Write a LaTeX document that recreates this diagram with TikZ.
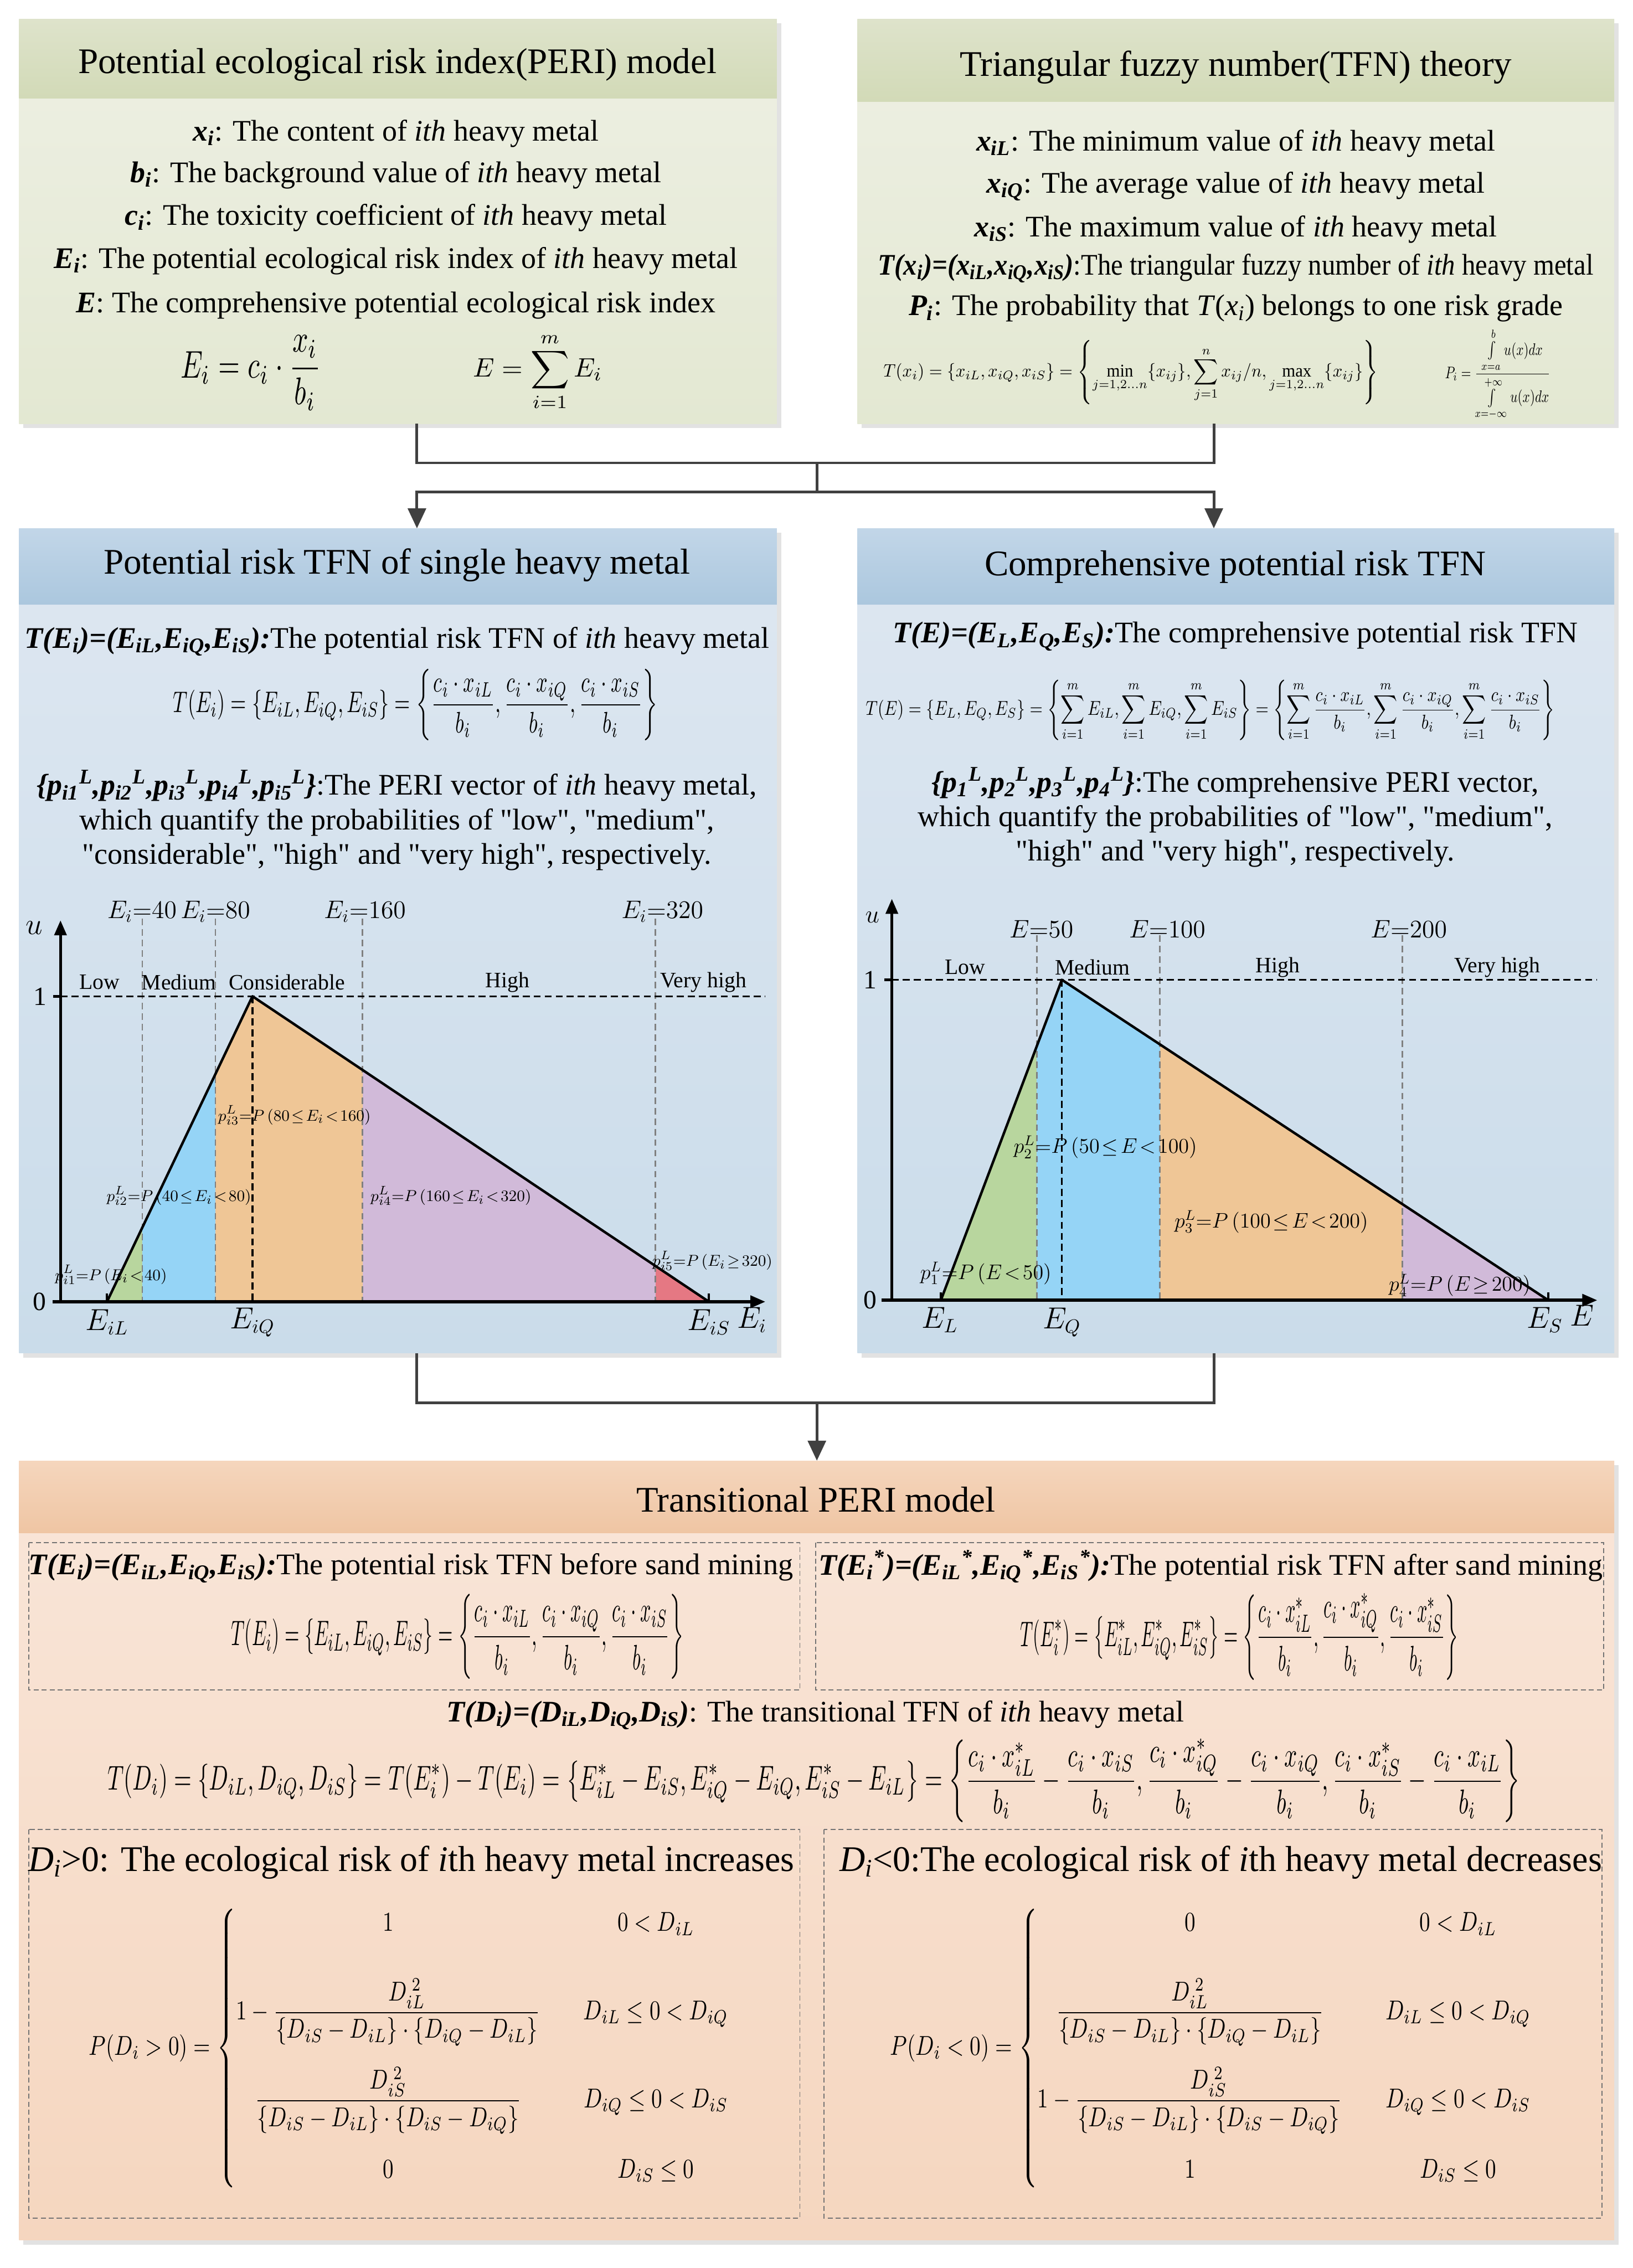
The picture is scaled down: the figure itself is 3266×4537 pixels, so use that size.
\documentclass[tikz,border=0pt]{standalone}
\usepackage{fontspec}
\setmainfont{Liberation Serif}
\usepackage{amsmath}
\usetikzlibrary{arrows.meta,shadows}

\definecolor{greenhd1}{HTML}{DEE3CB}
\definecolor{greenhd2}{HTML}{D2DAB7}
\definecolor{greenbd1}{HTML}{EEF0E4}
\definecolor{greenbd2}{HTML}{E3E8D2}
\definecolor{bluehd1}{HTML}{C2D6E8}
\definecolor{bluehd2}{HTML}{ABC7DE}
\definecolor{bluebd1}{HTML}{DEE7F1}
\definecolor{bluebd2}{HTML}{CADCEA}
\definecolor{orghd1}{HTML}{F5D6BD}
\definecolor{orghd2}{HTML}{EFC5A3}
\definecolor{orgbd1}{HTML}{F9E6D9}
\definecolor{orgbd2}{HTML}{F5D6BF}
\definecolor{lowc}{HTML}{B8D69E}
\definecolor{medc}{HTML}{95D4F6}
\definecolor{conc}{HTML}{EFC696}
\definecolor{higc}{HTML}{D1BAD9}
\definecolor{vhic}{HTML}{E57883}
\definecolor{shadowc}{HTML}{E2E2E2}
\definecolor{linec}{HTML}{404040}

\newcommand{\bvar}[2]{\textbf{\textit{#1\textsubscript{#2}}}}
\newcommand{\qt}[1]{\textquotedbl#1\textquotedbl}
\newcommand{\fitmath}[3]{\resizebox*{#1}{#2}{$\displaystyle #3$}}
\newcommand{\cxb}[1]{\dfrac{c_i\cdot x_{#1}}{b_i}}
\newcommand{\cxbs}[1]{\dfrac{c_i\cdot x_{#1}^{*}}{b_i}}
\newcommand{\plmath}[1]{$\thickmuskip=2mu\relax\medmuskip=1mu\relax #1$}

\begin{document}
\begin{tikzpicture}[x=0.01cm,y=-0.01cm,
  panel/.style={anchor=north west,inner sep=0pt,outer sep=0pt,
    drop shadow={shadow xshift=0.09cm,shadow yshift=-0.09cm,fill=shadowc,opacity=1}},
  head/.style={anchor=north west,inner sep=0pt,outer sep=0pt},
  ttl/.style={font=\fontsize{20.5}{24}\selectfont,inner sep=0pt},
  txt/.style={font=\fontsize{17}{19.6}\selectfont,align=center,inner sep=0pt},
  bigtxt/.style={font=\fontsize{20.5}{24}\selectfont,inner sep=0pt},
  frm/.style={inner sep=0pt},
  conn/.style={draw=linec,line width=0.055cm},
  arr/.style={conn,-{Triangle[length=0.4cm,width=0.36cm]}},
  axline/.style={line width=0.06cm,-{Triangle[length=0.3cm,width=0.24cm]}},
  triln/.style={line width=0.05cm,line join=round},
  guide/.style={black!50,line width=0.025cm,dash pattern=on 0.13cm off 0.08cm},
  peakln/.style={line width=0.035cm,dash pattern=on 0.14cm off 0.08cm},
  dbox/.style={black!55,line width=0.02cm,dash pattern=on 0.1cm off 0.06cm},
  catlab/.style={font=\fontsize{12.5}{15}\selectfont,inner sep=0pt},
  evlab/.style={font=\fontsize{14}{16}\selectfont,inner sep=0pt},
  plab/.style={font=\fontsize{9.5}{12}\selectfont,inner sep=0pt},
  dplab/.style={font=\fontsize{11.5}{14}\selectfont,inner sep=0pt},
  axlab/.style={font=\fontsize{16}{19}\selectfont,inner sep=0pt},
  numlab/.style={font=\fontsize{15}{18}\selectfont,inner sep=0pt}]

\useasboundingbox (0,0) rectangle (3266,4537);

% panels
\node[panel,minimum width=15.15cm,minimum height=8.09cm,top color=greenbd1,bottom color=greenbd2] (peri) at (38,38) {};
\node[head,minimum width=15.15cm,minimum height=1.59cm,top color=greenhd1,bottom color=greenhd2] (perihd) at (peri.north west) {};
\node[panel,minimum width=15.13cm,minimum height=8.09cm,top color=greenbd1,bottom color=greenbd2] (tfn) at (1715,38) {};
\node[head,minimum width=15.13cm,minimum height=1.65cm,top color=greenhd1,bottom color=greenhd2] (tfnhd) at (tfn.north west) {};
\node[panel,minimum width=15.15cm,minimum height=16.49cm,top color=bluebd1,bottom color=bluebd2] (single) at (38,1057) {};
\node[head,minimum width=15.15cm,minimum height=1.52cm,top color=bluehd1,bottom color=bluehd2] (singlehd) at (single.north west) {};
\node[panel,minimum width=15.13cm,minimum height=16.49cm,top color=bluebd1,bottom color=bluebd2] (comp) at (1715,1057) {};
\node[head,minimum width=15.13cm,minimum height=1.52cm,top color=bluehd1,bottom color=bluehd2] (comphd) at (comp.north west) {};
\node[panel,minimum width=31.89cm,minimum height=15.58cm,top color=orgbd1,bottom color=orgbd2] (trans) at (38,2922) {};
\node[head,minimum width=31.89cm,minimum height=1.45cm,top color=orghd1,bottom color=orghd2] (transhd) at (trans.north west) {};

% connectors
\coordinate (colL) at (834,0);
\coordinate (colR) at (2428,0);
\coordinate (colM) at (1634,0);
\coordinate (jtop) at (1634,926);
\coordinate (jmid) at (1634,984);
\coordinate (jlow) at (1634,2806);
\draw[conn] (peri.south -| colL) |- (jtop) -| (tfn.south -| colR);
\draw[conn] (jtop) -- (jmid);
\draw[arr] (jmid) -| (single.north -| colL);
\draw[arr] (jmid) -| (comp.north -| colR);
\draw[conn] (single.south -| colL) |- (jlow) -| (comp.south -| colR);
\draw[arr] (jlow) -- (trans.north -| colM);

% PERI model
\node[ttl] (peritl) at (795,129) {Potential ecological risk index(PERI) model};
\node[txt] (peri1) at (792,267) {\bvar{x}{i}: The content of \textit{ith} heavy metal};
\node[txt] (peri2) at (792,350) {\bvar{b}{i}: The background value of \textit{ith} heavy metal};
\node[txt] (peri3) at (792,436) {\bvar{c}{i}: The toxicity coefficient of \textit{ith} heavy metal};
\node[txt] (peri4) at (792,522) {\bvar{E}{i}: The potential ecological risk index of \textit{ith} heavy metal};
\node[txt] (peri5) at (792,611) {\textbf{\textit{E}}: The comprehensive potential ecological risk index};
\node[frm] (peria) at (502,746) {\fitmath{2.80cm}{1.50cm}{E_i=c_i\cdot\frac{x_i}{b_i}}};
\node[frm] (perib) at (1076,744) {\fitmath{2.58cm}{1.56cm}{E=\sum_{i=1}^{m}E_i}};

% TFN theory
\node[ttl] (tfntl) at (2472,135) {Triangular fuzzy number(TFN) theory};
\node[txt] (tfn1) at (2472,287) {\bvar{x}{iL}: The minimum value of \textit{ith} heavy metal};
\node[txt] (tfn2) at (2472,373) {\bvar{x}{iQ}: The average value of \textit{ith} heavy metal};
\node[txt] (tfn3) at (2472,459) {\bvar{x}{iS}: The maximum value of \textit{ith} heavy metal};
\node[txt] (tfn4) at (2472,537) {\resizebox{14.3cm}{\height}{\textbf{\textit{T(x\textsubscript{i})=(x\textsubscript{iL},x\textsubscript{iQ},x\textsubscript{iS})}}:The triangular fuzzy number of \textit{ith} heavy metal}};
\node[txt] (tfn5) at (2472,617) {\bvar{P}{i}: The probability that \textit{T}(\textit{x}\textsubscript{\textit{i}}) belongs to one risk grade};
\node[frm] (tfna) at (2262,745) {\fitmath{9.89cm}{1.29cm}{T(x_i)=\left\{x_{iL},x_{iQ},x_{iS}\right\}=\left\{\min\limits_{j=1,2\ldots n}\{x_{ij}\},\sum_{j=1}^{n}x_{ij}/n,\max\limits_{j=1,2\ldots n}\{x_{ij}\}\right\}}};
\node[frm] (tfnb) at (2996,749) {\fitmath{2.11cm}{1.84cm}{P_i=\frac{\int\limits_{x=a}^{b}u(x)dx}{\int\limits_{x=-\infty}^{+\infty}u(x)dx}}};

% single heavy metal
\node[ttl] (singletl) at (794,1131) {Potential risk TFN of single heavy metal};
\node[txt] (single1) at (794,1283) {\textbf{\textit{T(E\textsubscript{i})=(E\textsubscript{iL},E\textsubscript{iQ},E\textsubscript{iS}):}}The potential risk TFN of \textit{ith} heavy metal};
\node[frm] (singlea) at (831,1410) {\fitmath{9.68cm}{1.43cm}{T(E_i)=\left\{E_{iL},E_{iQ},E_{iS}\right\}=\left\{\cxb{iL},\cxb{iQ},\cxb{iS}\right\}}};
\node[txt] (single2) at (794,1641) {\textbf{\textit{\{p\textsubscript{i1}\textsuperscript{L},p\textsubscript{i2}\textsuperscript{L},p\textsubscript{i3}\textsuperscript{L},p\textsubscript{i4}\textsuperscript{L},p\textsubscript{i5}\textsuperscript{L}\}}}:The PERI vector of \textit{ith} heavy metal,\\which quantify the probabilities of \qt{low}, \qt{medium},\\\qt{considerable}, \qt{high} and \qt{very high}, respectively.};

% chart of single heavy metal
\coordinate (corg) at (121,2604);
\coordinate (ciL) at (214,2604);
\coordinate (ciQ) at (505,1993);
\coordinate (ciS) at (1418,2604);
\begin{scope}
  \clip (ciL) -- (ciQ) -- (ciS) -- cycle;
  \foreach \a/\b/\c in {214/285/lowc,285/431/medc,431/725/conc,725/1311/higc,1311/1418/vhic}
    \fill[\c] (\a,1980) rectangle (\b,2604);
\end{scope}
\foreach \x in {285,431,725,1311} \draw[guide] (\x,1838) -- (\x,2604);
\draw[peakln] (corg |- ciQ) -- (1531,1993);
\draw[peakln] (ciQ) -- (ciQ |- ciL);
\draw[triln] (ciL) -- (ciQ) -- (ciS);
\draw[axline] (105,2604) -- (1531,2604);
\draw[axline] (corg) -- (121,1841);
\draw[triln] (106,1993) -- (corg |- ciQ);
\draw[triln] (ciL) -- ++(0,-16);
\draw[triln] (ciS) -- ++(0,-16);
\node[axlab] (cu) at (68,1856) {$u$};
\node[numlab] (cone) at (80,1993) {1};
\node[numlab] (czero) at (79,2604) {0};
\node[axlab] (ceil) at (214,2645) {$E_{iL}$};
\node[axlab] (ceiq) at (505,2645) {$E_{iQ}$};
\node[axlab] (ceis) at (1418,2645) {$E_{iS}$};
\node[axlab] (cei) at (1504,2640) {$E_i$};
\node[evlab] (ce40) at (284,1824) {$E_i{=}40$};
\node[evlab] (ce80) at (431,1824) {$E_i{=}80$};
\node[evlab] (ce160) at (730,1824) {$E_i{=}160$};
\node[evlab] (ce320) at (1325,1824) {$E_i{=}320$};
\node[catlab] (clow) at (199,1965) {Low};
\node[catlab] (cmed) at (358,1965) {Medium};
\node[catlab] (ccon) at (574,1965) {Considerable};
\node[catlab] (chig) at (1015,1965) {High};
\node[catlab] (cvhi) at (1407,1965) {Very high};
\node[plab] (cp1) at (222,2550) {\plmath{p_{i1}^{L}{=}P\left(E_i<40\right)}};
\node[plab] (cp2) at (358,2392) {\plmath{p_{i2}^{L}{=}P\left(40\le E_i<80\right)}};
\node[plab] (cp3) at (589,2231) {\plmath{p_{i3}^{L}{=}P\left(80\le E_i<160\right)}};
\node[plab] (cp4) at (902,2392) {\plmath{p_{i4}^{L}{=}P\left(160\le E_i<320\right)}};
\node[plab] (cp5) at (1425,2522) {\plmath{p_{i5}^{L}{=}P\left(E_i\ge320\right)}};

% comprehensive
\node[ttl] (comptl) at (2471,1134) {Comprehensive potential risk TFN};
\node[txt] (comp1) at (2471,1273) {\textbf{\textit{T(E)=(E\textsubscript{L},E\textsubscript{Q},E\textsubscript{S}):}}The comprehensive potential risk TFN};
\node[frm] (compa) at (2421,1421) {\fitmath{13.78cm}{1.22cm}{T(E)=\left\{E_L,E_Q,E_S\right\}=\left\{\sum_{i=1}^{m}E_{iL},\sum_{i=1}^{m}E_{iQ},\sum_{i=1}^{m}E_{iS}\right\}=\left\{\sum_{i=1}^{m}\cxb{iL},\sum_{i=1}^{m}\cxb{iQ},\sum_{i=1}^{m}\cxb{iS}\right\}}};
\node[txt] (comp2) at (2471,1635) {\textbf{\textit{\{p\textsubscript{1}\textsuperscript{L},p\textsubscript{2}\textsuperscript{L},p\textsubscript{3}\textsuperscript{L},p\textsubscript{4}\textsuperscript{L}\}}}:The comprehensive PERI vector,\\which quantify the probabilities of \qt{low}, \qt{medium},\\\qt{high} and \qt{very high}, respectively.};

% chart of comprehensive risk
\coordinate (dorg) at (1784,2601);
\coordinate (dL) at (1882,2601);
\coordinate (dQ) at (2124,1960);
\coordinate (dS) at (3097,2601);
\begin{scope}
  \clip (dL) -- (dQ) -- (dS) -- cycle;
  \foreach \a/\b/\c in {1882/2074/lowc,2074/2320/medc,2320/2805/conc,2805/3097/higc}
    \fill[\c] (\a,1950) rectangle (\b,2601);
\end{scope}
\foreach \x in {2074,2320,2805} \draw[guide] (\x,1871) -- (\x,2601);
\draw[peakln] (dorg |- dQ) -- (3195,1960);
\draw[peakln] (dQ) -- (dQ |- dL);
\draw[triln] (dL) -- (dQ) -- (dS);
\draw[axline] (1763,2601) -- (3195,2601);
\draw[axline] (dorg) -- (1784,1798);
\draw[triln] (1769,1960) -- (dorg |- dQ);
\draw[triln] (dL) -- ++(0,-16);
\draw[triln] (dS) -- ++(0,-16);
\node[numlab] (du) at (1745,1835) {$u$};
\node[numlab] (done) at (1741,1960) {1};
\node[numlab] (dzero) at (1741,2601) {0};
\node[axlab] (del) at (1880,2640) {$E_L$};
\node[axlab] (deq) at (2124,2645) {$E_Q$};
\node[axlab] (des) at (3090,2640) {$E_S$};
\node[axlab] (de) at (3165,2632) {$E$};
\node[evlab] (de50) at (2083,1859) {$E{=}50$};
\node[evlab] (de100) at (2335,1859) {$E{=}100$};
\node[evlab] (de200) at (2818,1859) {$E{=}200$};
\node[catlab] (dlow) at (1930,1935) {Low};
\node[catlab] (dmed) at (2185,1935) {Medium};
\node[catlab] (dhig) at (2556,1935) {High};
\node[catlab] (dvhi) at (2995,1935) {Very high};
\node[dplab] (dp1) at (1972,2547) {\plmath{p_{1}^{L}{=}P\left(E<50\right)}};
\node[dplab] (dp2) at (2211,2295) {\plmath{p_{2}^{L}{=}P\left(50\le E<100\right)}};
\node[dplab] (dp3) at (2543,2444) {\plmath{p_{3}^{L}{=}P\left(100\le E<200\right)}};
\node[dplab] (dp4) at (2920,2571) {\plmath{p_{4}^{L}{=}P\left(E\ge200\right)}};

% transitional PERI model
\node[ttl] (transtl) at (1632,3000) {Transitional PERI model};
\draw[dbox] (58,3086) rectangle (1600,3381);
\draw[dbox] (1632,3086) rectangle (3208,3381);
\draw[dbox] (58,3660) rectangle (1600,4437);
\draw[dbox] (1648,3660) rectangle (3204,4437);
\node[txt] (bef1) at (822,3137) {\resizebox{15.28cm}{\height}{\textbf{\textit{T(E\textsubscript{i})=(E\textsubscript{iL},E\textsubscript{iQ},E\textsubscript{iS}):}}The potential risk TFN before sand mining}};
\node[frm] (befa) at (915,3274) {\fitmath{9.05cm}{1.70cm}{T(E_i)=\left\{E_{iL},E_{iQ},E_{iS}\right\}=\left\{\cxb{iL},\cxb{iQ},\cxb{iS}\right\}}};
\node[txt] (aft1) at (2422,3134) {\resizebox{15.68cm}{\height}{\textbf{\textit{T(E\textsubscript{i}\textsuperscript{*})=(E\textsubscript{iL}\textsuperscript{*},E\textsubscript{iQ}\textsuperscript{*},E\textsubscript{iS}\textsuperscript{*}):}}The potential risk TFN after sand mining}};
\node[frm] (afta) at (2479,3274) {\fitmath{8.76cm}{1.74cm}{T(E_i^{*})=\left\{E_{iL}^{*},E_{iQ}^{*},E_{iS}^{*}\right\}=\left\{\cxbs{iL},\cxbs{iQ},\cxbs{iS}\right\}}};
\node[txt] (dif1) at (1631,3431) {\textbf{\textit{T(D\textsubscript{i})=(D\textsubscript{iL},D\textsubscript{iQ},D\textsubscript{iS})}}: The transitional TFN of \textit{ith} heavy metal};
\node[frm] (difa) at (1628,3562) {\fitmath{28.24cm}{1.68cm}{T(D_i)=\left\{D_{iL},D_{iQ},D_{iS}\right\}=T(E_i^{*})-T(E_i)=\left\{E_{iL}^{*}-E_{iS},E_{iQ}^{*}-E_{iQ},E_{iS}^{*}-E_{iL}\right\}=\left\{\cxbs{iL}-\cxb{iS},\cxbs{iQ}-\cxb{iQ},\cxbs{iS}-\cxb{iL}\right\}}};
\node[bigtxt] (inc1) at (823,3726) {\resizebox{15.3cm}{\height}{\textit{D}\textsubscript{\textit{i}}>0: The ecological risk of \textit{i}th heavy metal increases}};
\node[frm] (inca) at (820,4097) {\fitmath{12.83cm}{5.59cm}{P(D_i>0)=\left\{\begin{array}{@{}c@{\qquad}c@{}}
  1 & 0<D_{iL}\\[3ex]
  1-\dfrac{D_{iL}^{\;2}}{\left\{D_{iS}-D_{iL}\right\}\cdot\left\{D_{iQ}-D_{iL}\right\}} & D_{iL}\le0<D_{iQ}\\[3ex]
  \dfrac{D_{iS}^{\;2}}{\left\{D_{iS}-D_{iL}\right\}\cdot\left\{D_{iS}-D_{iQ}\right\}} & D_{iQ}\le0<D_{iS}\\[3ex]
  0 & D_{iS}\le0
  \end{array}\right.}};
\node[bigtxt] (dec1) at (2442,3726) {\resizebox{15.24cm}{\height}{\textit{D}\textsubscript{\textit{i}}<0:The ecological risk of \textit{i}th heavy metal decreases}};
\node[frm] (deca) at (2424,4097) {\fitmath{12.85cm}{5.59cm}{P(D_i<0)=\left\{\begin{array}{@{}c@{\qquad}c@{}}
  0 & 0<D_{iL}\\[3ex]
  \dfrac{D_{iL}^{\;2}}{\left\{D_{iS}-D_{iL}\right\}\cdot\left\{D_{iQ}-D_{iL}\right\}} & D_{iL}\le0<D_{iQ}\\[3ex]
  1-\dfrac{D_{iS}^{\;2}}{\left\{D_{iS}-D_{iL}\right\}\cdot\left\{D_{iS}-D_{iQ}\right\}} & D_{iQ}\le0<D_{iS}\\[3ex]
  1 & D_{iS}\le0
  \end{array}\right.}};
\end{tikzpicture}
\end{document}
